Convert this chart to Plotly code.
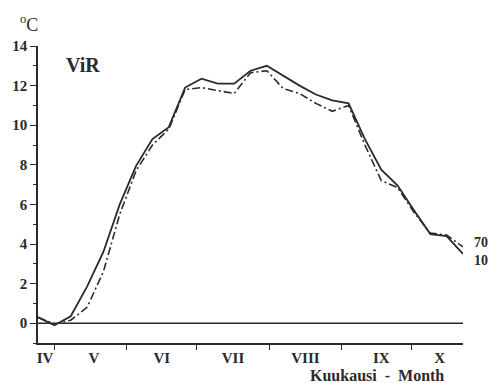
import plotly.graph_objects as go

# Weekly mean temperatures, days counted from 1 April
days = [23, 30, 37, 44, 51, 58, 65, 72, 79, 86, 93, 100, 107, 114,
        121, 128, 135, 142, 149, 156, 163, 170, 177, 184, 191, 198, 205]
temp_10 = [0.3, -0.1, 0.35, 1.85, 3.6, 6.0, 7.95, 9.3, 9.9, 11.9, 12.35, 12.1, 12.1, 12.75,
           13.0, 12.5, 12.0, 11.55, 11.25, 11.1, 9.3, 7.75, 6.95, 5.7, 4.5, 4.4, 3.5]
temp_70 = [0.3, -0.05, 0.15, 0.8, 2.6, 5.5, 7.7, 9.0, 9.8, 11.8, 11.9, 11.75, 11.6, 12.65,
           12.75, 11.85, 11.6, 11.1, 10.7, 11.0, 9.0, 7.2, 6.85, 5.6, 4.55, 4.45, 3.85]

month_bounds = [30, 61, 91, 122, 153, 183]
month_label_pos = [26, 47, 76, 106.5, 137.5, 170, 195]
month_labels = ["IV", "V", "VI", "VII", "VIII", "IX", "X"]

ink = "#2a2a2a"
serif = "Liberation Serif, Times New Roman, serif"

fig = go.Figure()
fig.add_trace(go.Scatter(x=days, y=temp_70, mode="lines",
                         line=dict(color=ink, width=1.6, dash="8px,3px,2px,3px")))
fig.add_trace(go.Scatter(x=days, y=temp_10, mode="lines",
                         line=dict(color=ink, width=1.8)))

# zero reference line
fig.add_shape(type="line", xref="x", yref="y", x0=23, x1=205, y0=0, y1=0,
              line=dict(color=ink, width=1.4))

fig.update_layout(
    width=492, height=383,
    margin=dict(l=36, r=29, t=46, b=40),
    plot_bgcolor="white", paper_bgcolor="white",
    showlegend=False,
    font=dict(family=serif, color=ink),
    xaxis=dict(
        range=[23, 205], showgrid=False, zeroline=False,
        showline=True, linecolor=ink, linewidth=1.6,
        tickvals=month_label_pos, ticktext=month_labels, ticks="",
        tickfont=dict(family=serif, size=15, color=ink, weight="bold"),
        minor=dict(tickvals=month_bounds, ticks="outside", ticklen=5,
                   tickwidth=1.4, tickcolor=ink, showgrid=False),
    ),
    yaxis=dict(
        range=[-1, 14], showgrid=False, zeroline=False,
        showline=True, linecolor=ink, linewidth=1.6,
        tickvals=[0, 2, 4, 6, 8, 10, 12, 14], ticks="outside", ticklen=6,
        tickwidth=1.4, tickcolor=ink,
        tickfont=dict(family=serif, size=15, color=ink, weight="bold"),
        minor=dict(dtick=1, tick0=0, ticks="outside", ticklen=3,
                   tickwidth=1.2, tickcolor=ink, showgrid=False),
    ),
    annotations=[
        dict(text="<sup>o</sup>C", xref="paper", yref="paper", x=-0.022, y=1.077,
             xanchor="center", yanchor="middle", showarrow=False,
             font=dict(family=serif, size=18, color=ink)),
        dict(text="<b>ViR</b>", xref="paper", yref="y", x=0.06, y=13.05,
             xanchor="left", yanchor="middle", showarrow=False,
             font=dict(family=serif, size=20, color=ink)),
        dict(text="<b>70</b>", xref="x", yref="y", x=205, y=4.1, xanchor="left",
             yanchor="middle", xshift=9, showarrow=False,
             font=dict(family=serif, size=14, color=ink)),
        dict(text="<b>10</b>", xref="x", yref="y", x=205, y=3.15, xanchor="left",
             yanchor="middle", xshift=9, showarrow=False,
             font=dict(family=serif, size=14, color=ink)),
        dict(text="<b>Kuukausi  -  Month</b>", xref="paper", yref="paper",
             x=0.798, y=-0.111, xanchor="center", yanchor="middle", showarrow=False,
             font=dict(family=serif, size=16, color=ink)),
    ],
)

fig.write_html("out.html")
